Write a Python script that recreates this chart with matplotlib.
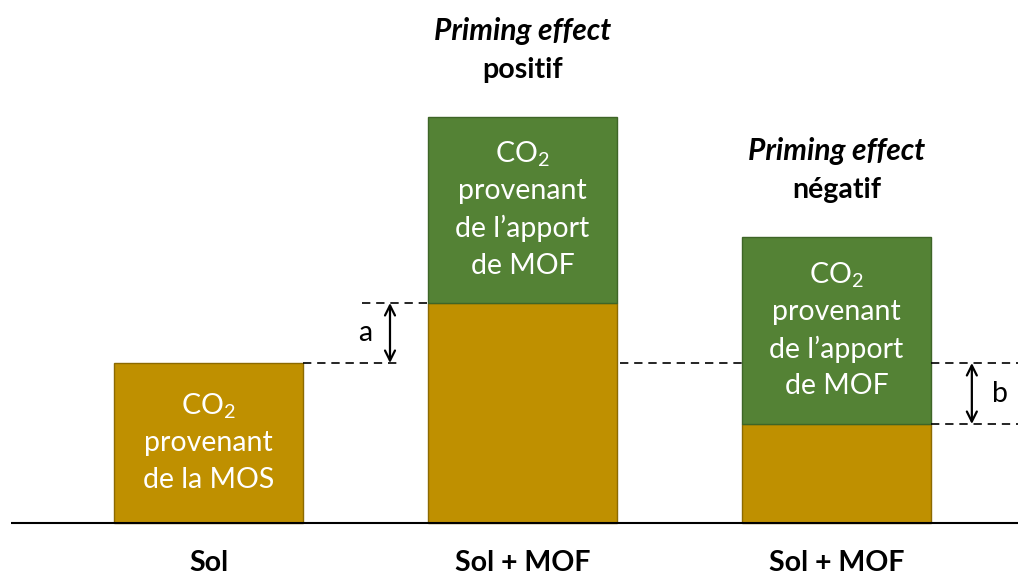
import matplotlib
matplotlib.use("Agg")
import matplotlib.pyplot as plt
import numpy as np

plt.rcParams['font.family'] = ['Lato', 'DejaVu Sans']

# heights (arbitrary units, baseline = 0)
categories = ["Sol", "Sol + MOF", "Sol + MOF"]
mos = [160, 220, 99]      # CO2 provenant de la MOS
mof = [0, 186, 187]       # CO2 provenant de l'apport de MOF
titles = [None, "positif", "négatif"]

orange = "#BF9000"
green = "#548235"

fig = plt.figure(figsize=(10.18, 5.76), dpi=100)
ax = fig.add_axes([0, 0, 1, 1])
ax.set_xlim(-0.664, 2.578)
ax.set_ylim(-53, 523)
ax.axis("off")

x = np.arange(len(categories))
w = 0.602
mos = np.array(mos)
mof = np.array(mof)

ax.bar(x, mos, width=w, color=orange, edgecolor="#8C6A00", lw=1)
ax.bar(x[1:], mof[1:], bottom=mos[1:], width=w, color=green, edgecolor="#3E6527", lw=1)

# baseline
ax.plot([-0.629, 2.578], [0, 0], color="black", lw=1.5, solid_capstyle="butt")

# text inside the bars, lines stacked around segment centre
def block(xc, yc, lines):
    n = len(lines)
    for i, t in enumerate(lines):
        off = ((n - 1) / 2 - i) * 26.8
        ax.annotate(t, (xc, yc), xytext=(0, off), textcoords="offset points",
                    ha="center", va="center", color="white", fontsize=20.5)

co2 = r"CO$_\mathregular{2}$"
block(x[0], mos[0] / 2, [co2, "provenant", "de la MOS"])
for i in (1, 2):
    block(x[i], mos[i] + mof[i] / 2, [co2, "provenant", "de l’apport", "de MOF"])

# titles above bars 2 and 3
for i in (1, 2):
    top = mos[i] + mof[i]
    ax.annotate("Priming effect", (x[i], top), xytext=(0, 62), textcoords="offset points",
                ha="center", va="center", fontsize=21.5, fontweight="bold", fontstyle="italic")
    ax.annotate(titles[i], (x[i], top), xytext=(0, 34), textcoords="offset points",
                ha="center", va="center", fontsize=20.5, fontweight="bold")

# category labels
for i, c in enumerate(categories):
    ax.annotate(c, (x[i], 0), xytext=(0, -29), textcoords="offset points",
                ha="center", va="center", fontsize=20.5, fontweight="bold")

# dashed guide lines
dash = dict(color="black", lw=1.2, dashes=(5, 3.5))
ax.plot([x[0] + w / 2, 0.6035], [mos[0], mos[0]], **dash)
ax.plot([0.489, x[1] - w / 2], [mos[1], mos[1]], **dash)
ax.plot([1.3105, x[2] - w / 2], [mos[0], mos[0]], **dash)
ax.plot([x[2] + w / 2, 2.578], [mos[0], mos[0]], **dash)
ax.plot([x[2] + w / 2, 2.578], [mos[2], mos[2]], **dash)

# arrows a and b
arr = dict(arrowstyle="<->", lw=1.6, color="black", shrinkA=0, shrinkB=0,
           mutation_scale=18)
ax.annotate("", (0.578, mos[1]), xytext=(0.578, mos[0]), arrowprops=arr)
ax.text(0.50, (mos[0] + mos[1]) / 2, "a", ha="center", va="center", fontsize=20.5)
ax.annotate("", (2.431, mos[0]), xytext=(2.431, mos[2]), arrowprops=arr)
ax.text(2.52, (mos[0] + mos[2]) / 2, "b", ha="center", va="center", fontsize=20.5)

fig.savefig("out.png", dpi=100)
